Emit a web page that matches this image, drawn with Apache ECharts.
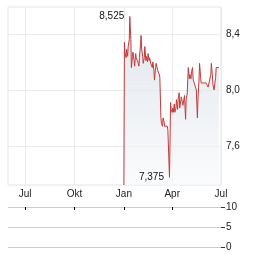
<!DOCTYPE html>
<html><head><meta charset="utf-8">
<script src="https://cdn.jsdelivr.net/npm/echarts@6/dist/echarts.min.js"></script>
<style>html,body{margin:0;padding:0;background:#fff}#c{width:264px;height:255px}</style>
</head><body><div id="c"></div>
<script>
const dates = [
 '2025-01-01','2025-01-02','2025-01-03','2025-01-05','2025-01-06','2025-01-08','2025-01-09','2025-01-11','2025-01-12','2025-01-14','2025-01-15','2025-01-17','2025-01-18','2025-01-20','2025-01-21','2025-01-23','2025-01-24','2025-01-26','2025-01-27','2025-01-29','2025-01-30',
 '2025-02-01','2025-02-02','2025-02-03','2025-02-05','2025-02-06','2025-02-08','2025-02-09','2025-02-11','2025-02-12','2025-02-14','2025-02-15','2025-02-17','2025-02-18','2025-02-20','2025-02-21','2025-02-23','2025-02-24','2025-02-26','2025-02-27',
 '2025-03-01','2025-03-02','2025-03-03','2025-03-05','2025-03-06','2025-03-08','2025-03-09','2025-03-11','2025-03-12','2025-03-14','2025-03-15','2025-03-17','2025-03-18','2025-03-20','2025-03-21','2025-03-23','2025-03-24','2025-03-26','2025-03-27','2025-03-29','2025-03-30',
 '2025-04-01','2025-04-02','2025-04-03','2025-04-05','2025-04-06','2025-04-08','2025-04-09','2025-04-11','2025-04-12','2025-04-14','2025-04-15','2025-04-17','2025-04-18','2025-04-20','2025-04-21','2025-04-23','2025-04-24','2025-04-26','2025-04-27','2025-04-29','2025-04-30',
 '2025-05-01','2025-05-03','2025-05-04','2025-05-06','2025-05-07','2025-05-09','2025-05-10','2025-05-12','2025-05-13','2025-05-15','2025-05-16','2025-05-18','2025-05-19','2025-05-21','2025-05-22','2025-05-24','2025-05-25','2025-05-27','2025-05-28','2025-05-29','2025-05-31',
 '2025-06-01','2025-06-03','2025-06-04','2025-06-06','2025-06-07','2025-06-09','2025-06-10','2025-06-12','2025-06-13','2025-06-15','2025-06-16','2025-06-18','2025-06-19','2025-06-21','2025-06-22','2025-06-24','2025-06-25','2025-06-27'
];
const prices = [
 7.32, 8.34, 8.27, 8.23, 8.29, 8.24, 8.31, 8.36, 8.525, 8.36, 8.16, 8.24, 8.27, 8.21, 8.17, 8.26, 8.23, 8.24, 8.2, 8.17, 8.23,
 8.33, 8.39, 8.3, 8.24, 8.19, 8.23, 8.31, 8.21, 8.24, 8.2, 8.26, 8.21, 8.23, 8.19, 8.2, 8.16, 8.2, 8.14, 8.07,
 8.16, 8.19, 8.18, 8.14, 8.14, 8.11, 8.09, 7.8, 7.76, 7.74, 7.8, 7.77, 7.74, 7.75, 7.73, 7.74, 7.71, 7.7, 7.375, 7.91, 7.86,
 7.84, 7.87, 7.84, 7.9, 7.84, 7.87, 7.93, 7.86, 7.93, 7.98, 7.87, 7.86, 7.95, 7.96, 7.89, 7.89, 7.96, 7.79, 7.93, 7.97, 8.07,
 8.16, 8.08, 8.11, 8.08, 8.13, 8.16, 8.08, 8.05, 8.05, 8.05, 8.0, 7.8, 7.93, 8.07, 8.19, 8.2, 8.05, 8.05, 8.05, 8.05, 8.05,
 8.05, 8.05, 8.05, 8.04, 8.02, 8.03, 8.01, 8.11, 8.19, 8.1, 8.04, 8.0, 8.01, 8.09, 8.16, 8.17, 8.16, 8.16
];
const xRange = ['2024-05-30', '2025-07-01'];
const xTickDates = ['2024-07-01', '2024-10-01', '2025-01-01', '2025-04-01', '2025-07-01'];
const xTickLabels = ['Jul', 'Okt', 'Jan', 'Apr', 'Jul'];
const priceRange = [7.32, 8.593];
const priceTicks = [7.6, 8.0, 8.4];
const priceTickLabels = ['7,6', '8,0', '8,4'];
const volumeRange = [0, 10];
const volumeTicks = [0, 5, 10];

function ts(s) { const p = s.split('-').map(Number); return new Date(p[0], p[1] - 1, p[2]).getTime(); }
const tickTs = xTickDates.map(ts);
const seriesData = dates.map((d, i) => [ts(d), prices[i]]);
const hiIdx = prices.indexOf(Math.max(...prices));
const rest = prices.slice(1);
const loIdx = rest.indexOf(Math.min(...rest)) + 1;
const FONT = 'Liberation Sans, Arial, sans-serif';
function nearestIdx(arr, v) { let b = 0; arr.forEach((a, i) => { if (Math.abs(a - v) < Math.abs(arr[b] - v)) b = i; }); return b; }

const chart = echarts.init(document.getElementById('c'), null, { renderer: 'canvas' });
chart.setOption({
  animation: false,
  grid: [
    { left: 8, right: 43, top: 7, height: 178, show: true, borderColor: '#e3e3e3', borderWidth: 1 },
    { left: 8, right: 43, top: 207, height: 40 }
  ],
  xAxis: [
    { type: 'value', gridIndex: 0, min: ts(xRange[0]), max: ts(xRange[1]),
      axisLine: { show: false, onZero: false }, axisTick: { show: false, customValues: tickTs },
      axisLabel: { customValues: tickTs, formatter: v => xTickLabels[nearestIdx(tickTs, v)], color: '#222', fontSize: 10, fontFamily: FONT, margin: 4, hideOverlap: false, showMinLabel: true, showMaxLabel: true },
      splitLine: { show: true, lineStyle: { color: '#ebebeb', width: 1 } } },
    { type: 'value', gridIndex: 1, position: 'top', min: ts(xRange[0]), max: ts(xRange[1]),
      axisLine: { show: false, onZero: false },
      axisTick: { show: true, inside: true, length: 3, customValues: tickTs.slice(0, 4), lineStyle: { color: '#000' } },
      axisLabel: { show: false }, splitLine: { show: false } }
  ],
  yAxis: [
    { type: 'value', gridIndex: 0, position: 'right', min: priceRange[0], max: priceRange[1],
      axisLine: { show: false }, axisTick: { show: false, customValues: priceTicks },
      axisLabel: { customValues: priceTicks, formatter: v => priceTickLabels[nearestIdx(priceTicks, v)], color: '#222', fontSize: 10, fontFamily: FONT, margin: 5 },
      splitLine: { show: true, lineStyle: { color: '#ebebeb', width: 1 } } },
    { type: 'value', gridIndex: 1, position: 'right', min: volumeRange[0], max: volumeRange[1], interval: 5,
      axisLine: { show: false },
      axisTick: { show: true, length: 4, lineStyle: { color: '#333' } },
      axisLabel: { color: '#222', fontSize: 10, fontFamily: FONT, margin: 5 },
      splitLine: { show: true, lineStyle: { color: '#cccccc', width: 1 } } }
  ],
  series: [{
    type: 'line', xAxisIndex: 0, yAxisIndex: 0, data: seriesData, symbol: 'none',
    lineStyle: { color: '#c23b3b', width: 1 },
    areaStyle: { color: new echarts.graphic.LinearGradient(0, 0, 0, 1, [
      { offset: 0, color: '#d3dbe3' }, { offset: 1, color: '#f8f9fb' }]) },
    markPoint: {
      symbol: 'circle', symbolSize: 1, itemStyle: { color: 'rgba(0,0,0,0)' },
      label: { show: true, position: 'left', distance: 5, color: '#111', fontSize: 10, fontFamily: FONT,
        formatter: p => String(p.value).replace('.', ',') },
      data: [
        { coord: seriesData[hiIdx], value: prices[hiIdx] },
        { coord: seriesData[loIdx], value: prices[loIdx] }
      ]
    }
  }]
});
</script></body></html>
